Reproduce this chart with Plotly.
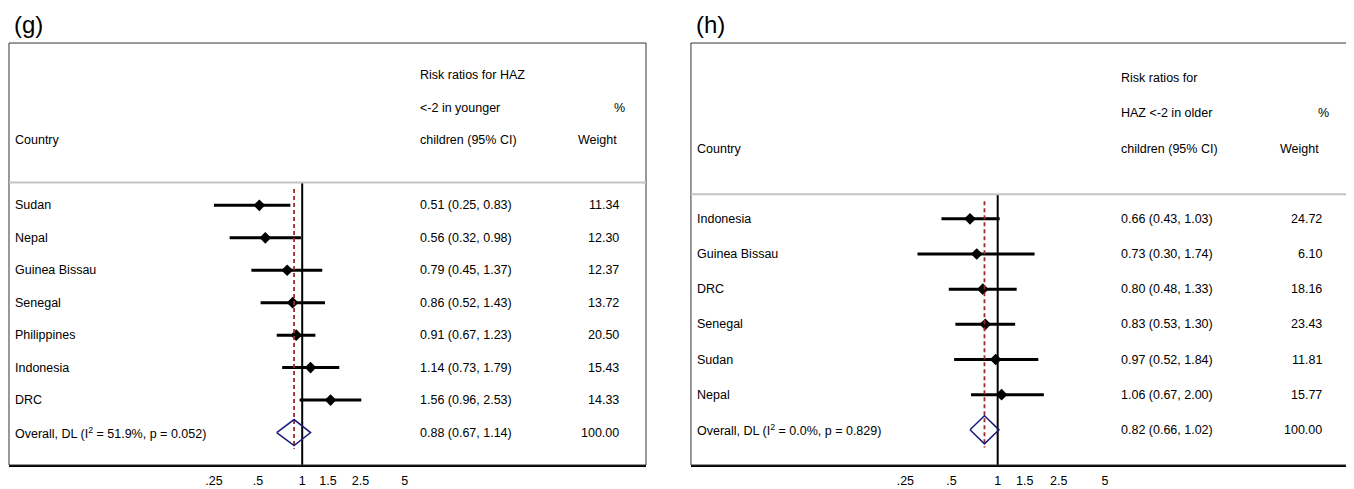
#python3

"""
Forest plots (g) and (h): risk ratios for HAZ < -2 in younger / older children
"""

import plotly.graph_objects as go

# ---- panel (g): younger children
countries_g = ["Sudan", "Nepal", "Guinea Bissau", "Senegal", "Philippines", "Indonesia", "DRC"]
rr_g = [0.51, 0.56, 0.79, 0.86, 0.91, 1.14, 1.56]
lo_g = [0.25, 0.32, 0.45, 0.52, 0.67, 0.73, 0.96]
hi_g = [0.83, 0.98, 1.37, 1.43, 1.23, 1.79, 2.53]
weight_g = [11.34, 12.30, 12.37, 13.72, 20.50, 15.43, 14.33]
overall_g = [0.88, 0.67, 1.14, 100.00]
het_g = ["51.9", "0.052"]
header_g = ["Risk ratios for HAZ", "<-2 in younger", "children (95% CI)"]

# ---- panel (h): older children
countries_h = ["Indonesia", "Guinea Bissau", "DRC", "Senegal", "Sudan", "Nepal"]
rr_h = [0.66, 0.73, 0.80, 0.83, 0.97, 1.06]
lo_h = [0.43, 0.30, 0.48, 0.53, 0.52, 0.67]
hi_h = [1.03, 1.74, 1.33, 1.30, 1.84, 2.00]
weight_h = [24.72, 6.10, 18.16, 23.43, 11.81, 15.77]
overall_h = [0.82, 0.66, 1.02, 100.00]
het_h = ["0.0", "0.829"]
header_h = ["Risk ratios for", "HAZ <-2 in older", "children (95% CI)"]

tick_vals = [0.25, 0.5, 1, 1.5, 2.5, 5]
tick_text = [".25", ".5", "1", "1.5", "2.5", "5"]

FONT = "Liberation Sans, Arial, Helvetica, sans-serif"
FS = 12.5
RED = "#9e2a2b"
NAVY = "#1c1c7c"

fig = go.Figure()
annotations = []
shapes = []


def add_panel(suffix, label, countries, rr, lo, hi, weight, overall, het, header,
              x_dom, x_range, ci_col, w_col, pct_col, wt_col):
    xa = "x" + suffix
    ya = "y" + suffix
    n = len(countries)
    rows = list(range(1, n + 1))
    ov_row = n + 1
    bottom = n + 2
    sep = 0.3
    ov_est, ov_lo, ov_hi, ov_w = overall

    # confidence interval bars
    for r, a, b in zip(rows, lo, hi):
        fig.add_trace(go.Scatter(x=[a, b], y=[r, r], mode="lines", line=dict(color="black", width=3),
                                 xaxis=xa, yaxis=ya, showlegend=False, hoverinfo="skip"))
    # point estimates
    fig.add_trace(go.Scatter(x=rr, y=rows, mode="markers",
                             marker=dict(symbol="diamond", size=9, color="black"),
                             xaxis=xa, yaxis=ya, showlegend=False))
    # null line
    fig.add_trace(go.Scatter(x=[1, 1], y=[sep, bottom], mode="lines", line=dict(color="black", width=2),
                             xaxis=xa, yaxis=ya, showlegend=False, hoverinfo="skip"))
    # overall estimate line
    fig.add_trace(go.Scatter(x=[ov_est, ov_est], y=[0.5, ov_row + 0.5], mode="lines",
                             line=dict(color=RED, width=1.8, dash="4px,3px"),
                             xaxis=xa, yaxis=ya, showlegend=False, hoverinfo="skip"))
    # overall diamond
    fig.add_trace(go.Scatter(x=[ov_lo, ov_est, ov_hi, ov_est, ov_lo],
                             y=[ov_row, ov_row - 0.4, ov_row, ov_row + 0.4, ov_row],
                             mode="lines", line=dict(color=NAVY, width=1.5),
                             xaxis=xa, yaxis=ya, showlegend=False, hoverinfo="skip"))

    fig.layout["xaxis" + suffix] = dict(domain=x_dom, type="log", range=x_range, anchor=ya,
                                        tickvals=tick_vals, ticktext=tick_text, showgrid=False,
                                        zeroline=False, showline=True, linecolor="black", linewidth=2,
                                        ticks="outside", ticklen=3, tickcolor="rgba(0,0,0,0)",
                                        tickfont=dict(size=FS, color="black", family=FONT))
    fig.layout["yaxis" + suffix] = dict(domain=[0.0499, 0.9272], range=[bottom, -4], anchor=xa,
                                        visible=False, showgrid=False, zeroline=False)

    xd = xa + " domain"
    yd = ya + " domain"
    # frame and header separator
    shapes.append(dict(type="rect", xref=xd, yref=yd, x0=0, x1=1, y0=0, y1=1,
                       line=dict(color="#333333", width=1)))
    shapes.append(dict(type="line", xref=xd, yref=ya, x0=0, x1=1, y0=sep, y1=sep,
                       line=dict(color="#c4c4c4", width=2)))

    def txt(x, y, s, anchor="left", size=FS, yref=ya, xref=xd):
        annotations.append(dict(x=x, y=y, xref=xref, yref=yref, text=s, showarrow=False,
                                xanchor=anchor, yanchor="middle",
                                font=dict(size=size, color="black", family=FONT)))

    # panel letter
    txt(0.004, 1.044, label, size=24, yref=yd)

    # header
    for i, line in enumerate(header):
        txt(ci_col, -3 + i, line)
    txt(0.006, -1, "Country")
    txt(pct_col, -2, "%", anchor="right")
    txt(wt_col, -1, "Weight", anchor="right")

    # study rows
    for r, c, e, a, b, w in zip(rows, countries, rr, lo, hi, weight):
        txt(0.006, r, c)
        txt(ci_col, r, "{:.2f} ({:.2f}, {:.2f})".format(e, a, b))
        txt(w_col, r, "{:.2f}".format(w), anchor="right")

    txt(0.006, ov_row, "Overall, DL (I<sup>2</sup> = {}%, p = {})".format(het[0], het[1]))
    txt(ci_col, ov_row, "{:.2f} ({:.2f}, {:.2f})".format(ov_est, ov_lo, ov_hi))
    txt(w_col, ov_row, "{:.2f}".format(ov_w), anchor="right")


# the page body adds an 8px margin, so the figure is 8px smaller than the window
add_panel("", "(g)", countries_g, rr_g, lo_g, hi_g, weight_g, overall_g, het_g, header_g,
          [0.00074, 0.4740], [-2.0, 2.345], 0.6426, 0.9603, 0.9697, 0.9576)
add_panel("2", "(h)", countries_h, rr_h, lo_h, hi_h, weight_h, overall_h, het_h, header_h,
          [0.5074, 0.9978], [-2.0, 2.304], 0.649, 0.9595, 0.969, 0.9545)

fig.update_layout(width=1346, height=481, margin=dict(l=0, r=0, t=0, b=0),
                  paper_bgcolor="white", plot_bgcolor="white",
                  font=dict(family=FONT, size=FS, color="black"),
                  annotations=annotations, shapes=shapes, showlegend=False)

fig.write_html("out.html")
